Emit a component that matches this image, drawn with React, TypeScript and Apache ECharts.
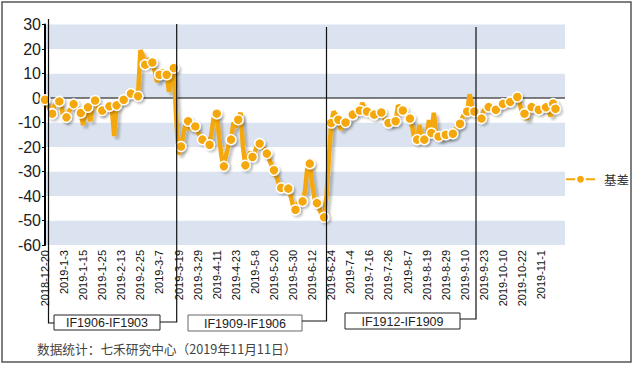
import React, { useEffect, useRef } from "react";
import * as echarts from "echarts";

// Trading days shown on the category axis (month -> days)
const monthDays: [string, number[]][] = [
  ["2018-12", [20, 21, 24, 25, 26, 27, 28]],
  ["2019-1", [2, 3, 4, 7, 8, 9, 10, 11, 14, 15, 16, 17, 18, 21, 22, 23, 24, 25, 28, 29, 30, 31]],
  ["2019-2", [1, 11, 12, 13, 14, 15, 18, 19, 20, 21, 22, 25, 26, 27, 28]],
  ["2019-3", [1, 4, 5, 6, 7, 8, 11, 12, 13, 14, 15, 18, 19, 20, 21, 22, 25, 26, 27, 28, 29]],
  ["2019-4", [1, 2, 3, 4, 8, 9, 10, 11, 12, 15, 16, 17, 18, 19, 22, 23, 24, 25, 26, 29, 30]],
  ["2019-5", [6, 7, 8, 9, 10, 13, 14, 15, 16, 17, 20, 21, 22, 23, 24, 27, 28, 29, 30, 31]],
  ["2019-6", [3, 4, 5, 6, 10, 11, 12, 13, 14, 17, 18, 19, 20, 21, 24, 25, 26, 27, 28]],
  ["2019-7", [1, 2, 3, 4, 5, 8, 9, 10, 11, 12, 15, 16, 17, 18, 19, 22, 23, 24, 25, 26, 29, 30, 31]],
  ["2019-8", [1, 2, 5, 6, 7, 8, 9, 12, 13, 14, 15, 16, 19, 20, 21, 22, 23, 26, 27, 28, 29, 30]],
  ["2019-9", [2, 3, 4, 5, 6, 9, 10, 11, 12, 16, 17, 18, 19, 20, 23, 24, 25, 26, 27, 30]],
  ["2019-10", [8, 9, 10, 11, 14, 15, 16, 17, 18, 21, 22, 23, 24, 25, 28, 29, 30, 31]],
  ["2019-11", [1, 4, 5, 6, 7, 8, 11]],
];

// 基差 (basis), one value per trading day
const basis: number[] = [
  -0.7, -2.0, -5.2, -6.4, -3.0, -2.2, -1.4, -4.0, -9.2, -7.9,
  -5.5, -4.0, -2.5, -4.0, -5.0, -6.1, -11.0, -5.5, -3.8, -9.5,
  -3.0, -1.0, -3.0, -6.5, -5.1, -4.0, -3.5, -3.4, -4.0, -15.5,
  -3.0, -2.0, -1.5, -0.7, 0.5, 1.0, 1.8, 1.0, 0.5, 0.7,
  19.5, 17.5, 13.6, 16.0, 15.0, 14.5, 11.0, 6.5, 9.5, 11.5,
  8.0, 9.5, 2.5, 10.0, 12.2, -8.0, -23.0, -19.8, -15.0, -10.0,
  -9.5, -13.0, -11.0, -11.6, -13.5, -16.0, -17.0, -17.5, -18.0, -19.1,
  -13.0, -6.0, -6.4, -16.0, -24.0, -27.9, -23.0, -19.0, -17.0, -10.0,
  -12.0, -8.9, -6.0, -20.0, -27.5, -24.0, -22.0, -24.1, -22.0, -19.0,
  -18.6, -19.5, -21.0, -22.7, -25.0, -27.5, -29.5, -32.0, -35.0, -36.7,
  -36.5, -37.0, -37.0, -40.0, -44.0, -45.6, -43.0, -42.0, -42.2, -38.0,
  -28.0, -26.8, -35.0, -41.0, -42.9, -45.0, -48.0, -48.7, -40.0, -25.0,
  -10.2, -5.5, -7.0, -8.9, -13.0, -11.0, -10.0, -9.0, -8.0, -6.8,
  -6.0, -4.0, -5.1, -2.0, -4.5, -5.5, -6.0, -6.5, -6.8, -6.5,
  -5.5, -5.9, -8.0, -9.5, -10.2, -10.5, -9.8, -9.5, -3.0, -4.0,
  -5.1, -6.5, -7.5, -8.4, -12.0, -17.5, -17.0, -11.0, -17.5, -17.0,
  -15.0, -9.0, -14.3, -6.0, -14.0, -15.7, -17.0, -16.0, -15.0, -16.0,
  -15.5, -14.6, -13.0, -11.5, -10.5, -8.0, -6.0, -5.5, 1.5, -3.0,
  -5.5, -7.5, -8.0, -8.4, -5.0, -4.0, -3.7, -4.0, -4.5, -4.8,
  -3.5, -3.0, -2.4, -2.2, -2.0, -1.6, -1.0, -0.5, 0.4, -2.0,
  -6.5, -6.4, -8.9, -5.0, -3.7, -4.5, -4.0, -4.8, -4.5, -3.5,
  -3.8, -5.0, -7.5, -2.3, -4.4,
];

const seriesName = "基差";
const contractLabels = ["IF1906-IF1903", "IF1909-IF1906", "IF1912-IF1909"];
const sourceText = "数据统计：七禾研究中心（2019年11月11日）";
const yTicks = { min: -60, max: 30, interval: 10 };

const categories: string[] = monthDays.flatMap(([m, days]) => days.map((d) => `${m}-${d}`));

const ORANGE = "#f5a80a";
const LATIN = "'Liberation Sans', Arial, sans-serif";
const CJK = "'Noto Sans CJK SC', sans-serif";

export default function App() {
  const ref = useRef<HTMLDivElement>(null);

  useEffect(() => {
    if (!ref.current) return;
    const chart = echarts.init(ref.current, undefined, { renderer: "svg" });

    const lastIdx = basis.length - 1;
    const seriesData = basis.map((v, i) =>
      i % 3 === 0 || i === lastIdx ? { value: v } : { value: v, symbol: "none" }
    );

    const box = (x: number, y: number, w: number, h: number, text: string, stroke: string) => ({
      type: "group",
      children: [
        {
          type: "rect",
          shape: { x, y, width: w, height: h },
          style: { fill: "#fff", stroke, lineWidth: 1 },
        },
        {
          type: "text",
          x: x + w / 2,
          y: y + h / 2 + 0.5,
          style: {
            text,
            fill: "#222",
            font: `12.5px ${LATIN}`,
            align: "center",
            verticalAlign: "middle",
          },
        },
      ],
    });

    const lineStyle = { stroke: "#111", lineWidth: 1.2, fill: null };

    chart.setOption({
      animation: false,
      backgroundColor: "#fff",
      grid: { left: 45, right: 70, top: 24.5, bottom: 123, containLabel: false },
      legend: {
        data: [seriesName],
        left: 560,
        top: 168,
        itemWidth: 29,
        itemHeight: 11,
        textStyle: { fontSize: 12.5, color: "#333", fontFamily: CJK, padding: [0, 0, 0, 4] },
      },
      xAxis: {
        type: "category",
        data: categories,
        boundaryGap: false,
        max: 218,
        axisLine: { show: false },
        axisTick: { show: false },
        splitLine: { show: false },
        axisLabel: {
          interval: 7,
          rotate: 90,
          margin: 5,
          fontSize: 11,
          color: "#111",
          fontFamily: LATIN,
          formatter: (v: any) => (v === undefined || v === null ? "" : String(v)),
        },
      },
      yAxis: {
        type: "value",
        min: yTicks.min,
        max: yTicks.max,
        interval: yTicks.interval,
        axisLine: { show: true, lineStyle: { color: "#000", width: 2 } },
        axisTick: { show: true, length: 3, lineStyle: { color: "#000" } },
        splitLine: { show: false },
        splitArea: { show: true, areaStyle: { color: ["#dae3ef", "#ffffff"] } },
        axisLabel: { fontSize: 16, color: "#222", fontFamily: LATIN, margin: 4 },
      },
      series: [
        {
          name: seriesName,
          type: "line",
          data: seriesData,
          showAllSymbol: true,
          symbol: "circle",
          symbolSize: 10,
          color: ORANGE,
          lineStyle: {
            color: ORANGE,
            width: 4.5,
            shadowColor: "rgba(0,0,0,0.22)",
            shadowBlur: 2,
            shadowOffsetX: 3,
            shadowOffsetY: 3,
          },
          itemStyle: {
            color: ORANGE,
            borderColor: "#fff",
            borderWidth: 1.5,
            shadowColor: "rgba(0,0,0,0.22)",
            shadowBlur: 2,
            shadowOffsetX: 2,
            shadowOffsetY: 2,
          },
          markLine: {
            silent: true,
            symbol: "none",
            label: { show: false },
            lineStyle: { color: "#555", width: 1.5, type: "solid" },
            data: [{ yAxis: 0 }],
            z: 1,
          },
          z: 3,
        },
      ],
      graphic: [
        {
          type: "rect",
          shape: { x: 2, y: 2, width: 629, height: 360 },
          style: { fill: null, stroke: "#555", lineWidth: 1.5 },
          z: 0,
          silent: true,
        },
        {
          type: "polyline",
          shape: { points: [[48.5, 19], [48.5, 323], [54, 323]] },
          style: lineStyle,
          z: 10,
        },
        {
          type: "polyline",
          shape: { points: [[160, 322], [176.7, 322], [176.7, 24]] },
          style: lineStyle,
          z: 10,
        },
        {
          type: "polyline",
          shape: { points: [[302, 321], [326.5, 321], [326.5, 27]] },
          style: lineStyle,
          z: 10,
        },
        {
          type: "polyline",
          shape: { points: [[460, 319], [476, 319], [476, 27]] },
          style: lineStyle,
          z: 10,
        },
        { ...box(54, 315, 106, 15, contractLabels[0], "#222"), z: 11 },
        { ...box(188, 315, 114, 16, contractLabels[1], "#666"), z: 11 },
        { ...box(345, 313, 115, 16, contractLabels[2], "#222"), z: 11 },
        {
          type: "text",
          x: 37,
          y: 348,
          style: {
            text: sourceText,
            fill: "#444",
            font: `12.7px ${CJK}`,
            verticalAlign: "middle",
          },
          z: 11,
        },
      ],
    });

    return () => chart.dispose();
  }, []);

  return (
    <div
      ref={ref}
      style={{ position: "fixed", left: 0, top: 0, width: 635, height: 368 }}
    />
  );
}
